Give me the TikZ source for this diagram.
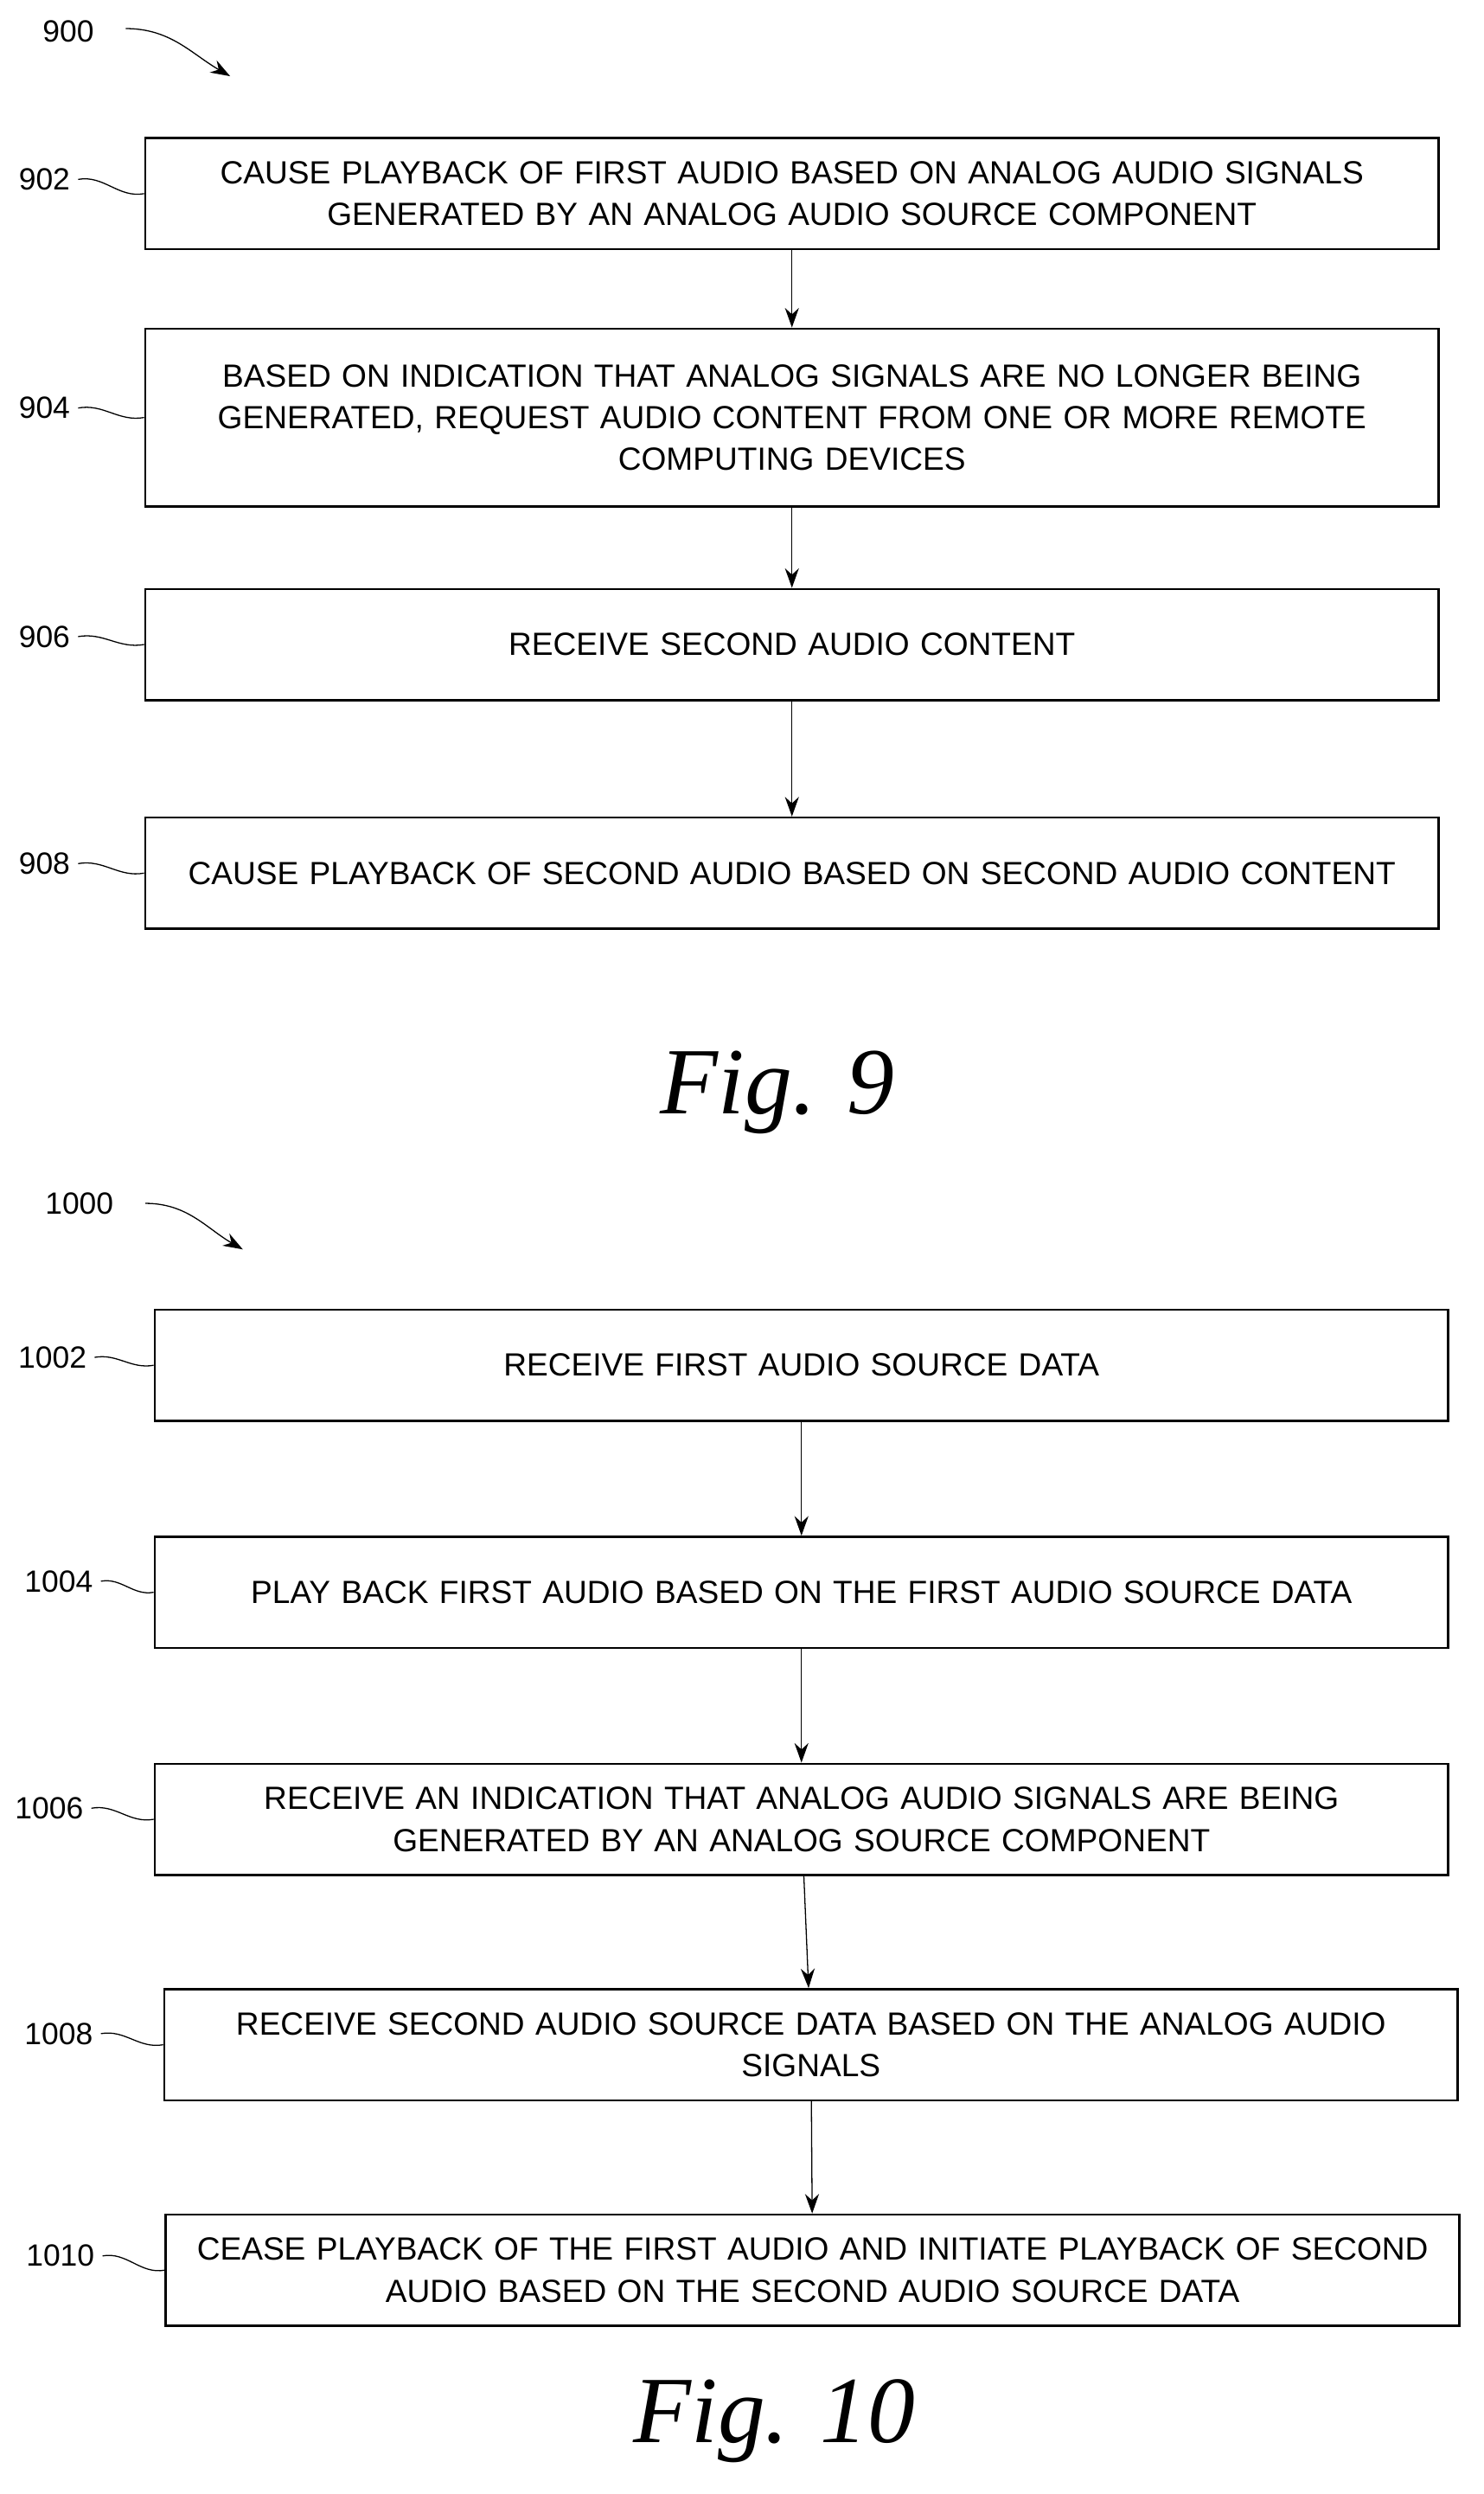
\documentclass[tikz,border=0pt]{standalone}
\usepackage{fontspec}
\usetikzlibrary{arrows.meta}
\setmainfont{Liberation Sans}
\newfontfamily\figfont{Liberation Serif}
\begin{document}
\begin{tikzpicture}[x=0.02cm,y=-0.02cm,
  bnode/.style={draw,thick,rectangle,align=center,font=\fontsize{11.5}{15}\selectfont,inner sep=2pt,text width=808*0.02cm,minimum height=70*0.02cm},
  lnode/.style={font=\fontsize{11}{13}\selectfont,inner sep=1pt},
  fnode/.style={font=\figfont\itshape\fontsize{34}{38}\selectfont},
  >={Stealth[length=7pt,width=5pt]}]
    \useasboundingbox (0,0) rectangle (935,1571);
    % Fig. 9
    \node[lnode] (l900) at (43,20) {900};
    \node[bnode] (b902) at (499,122) {CAUSE PLAYBACK OF FIRST AUDIO BASED ON ANALOG AUDIO SIGNALS\\GENERATED BY AN ANALOG AUDIO SOURCE COMPONENT};
    \node[bnode,minimum height=112*0.02cm] (b904) at (499,263) {BASED ON INDICATION THAT ANALOG SIGNALS ARE NO LONGER BEING\\GENERATED, REQUEST AUDIO CONTENT FROM ONE OR MORE REMOTE\\COMPUTING DEVICES};
    \node[bnode] (b906) at (499,406) {RECEIVE SECOND AUDIO CONTENT};
    \node[bnode] (b908) at (499,550) {CAUSE PLAYBACK OF SECOND AUDIO BASED ON SECOND AUDIO CONTENT};
    \node[lnode] (l902) at (28,113) {902};
    \node[lnode] (l904) at (28,257) {904};
    \node[lnode] (l906) at (28,401) {906};
    \node[lnode] (l908) at (28,544) {908};
    \node[fnode] (f9) at (490,688) {Fig. 9};
    % Fig. 10
    \node[lnode] (l1000) at (50,758) {1000};
    \node[bnode] (b1002) at (505,860) {RECEIVE FIRST AUDIO SOURCE DATA};
    \node[bnode] (b1004) at (505,1003) {PLAY BACK FIRST AUDIO BASED ON THE FIRST AUDIO SOURCE DATA};
    \node[bnode] (b1006) at (505,1146) {RECEIVE AN INDICATION THAT ANALOG AUDIO SIGNALS ARE BEING\\GENERATED BY AN ANALOG SOURCE COMPONENT};
    \node[bnode] (b1008) at (511,1288) {RECEIVE SECOND AUDIO SOURCE DATA BASED ON THE ANALOG AUDIO\\SIGNALS};
    \node[bnode] (b1010) at (512,1430) {CEASE PLAYBACK OF THE FIRST AUDIO AND INITIATE PLAYBACK OF SECOND\\AUDIO BASED ON THE SECOND AUDIO SOURCE DATA};
    \node[lnode] (l1002) at (33,855) {1002};
    \node[lnode] (l1004) at (37,996) {1004};
    \node[lnode] (l1006) at (31,1139) {1006};
    \node[lnode] (l1008) at (37,1281) {1008};
    \node[lnode] (l1010) at (38,1421) {1010};
    \node[fnode] (f10) at (488,1525) {Fig. 10};

    \coordinate (a900) at (145,48);
    \coordinate (a1000) at (153,787);
    \draw[->] (l900.east) ++(18,-2) to[out=0,in=150] (a900);
    \draw[->] (l1000.east) ++(18,0) to[out=0,in=150] (a1000);

    \foreach \l in {902,904,906,908,1002,1004,1006,1008,1010}
      \draw (l\l.east) ++(3,0) to[out=10,in=190] (b\l.west);

    \foreach \a/\b in {902/904,904/906,906/908,1002/1004,1004/1006,1006/1008,1008/1010}
      \draw[->] (b\a) edge (b\b);
\end{tikzpicture}
\end{document}
